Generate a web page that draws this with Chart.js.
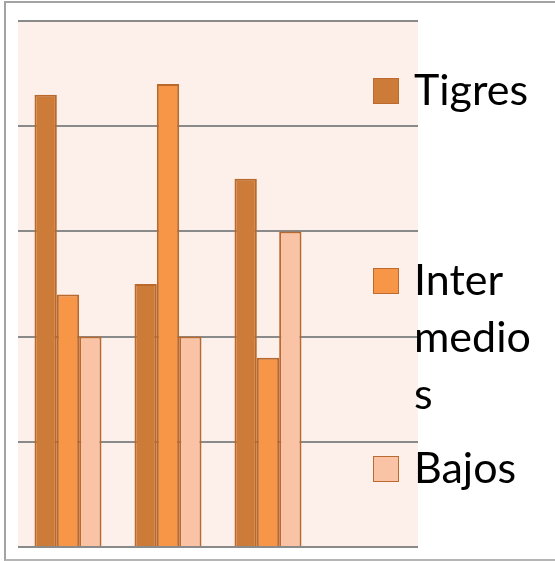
<!DOCTYPE html>
<html>
<head>
<meta charset="utf-8">
<script src="https://cdn.jsdelivr.net/npm/chart.js@4.4.1/dist/chart.umd.min.js"></script>
<style>
  html, body { margin: 0; padding: 0; background: #fff; }
  #wrap { position: relative; width: 555px; height: 561px; overflow: hidden; }
  #frame { position: absolute; left: 4px; top: 1px; width: 700px; height: 556px;
           border-top: 2px solid #a3a3a3; border-left: 2px solid #a3a3a3; border-bottom: 2px solid #b5b5b5; border-right: none; }
  canvas { position: absolute; left: 0; top: 0; }
  .lg-item { position: absolute; left: 373px; font-family: Lato, "Open Sans", sans-serif;
             font-size: 43px; line-height: 57px; color: #000; }
  .lg-box { position: absolute; left: 0; width: 24px; height: 24px; border: 1.5px solid #BB6B2F; }
  .lg-text { position: absolute; left: 41px; top: 0; width: 122px; word-break: break-all; }
</style>
</head>
<body>
<div id="wrap">
  <div id="frame"></div>
  <canvas id="c" width="555" height="561"></canvas>
  <div id="legend"></div>
</div>
<script>
const categories = ["Grupo 1", "Grupo 2", "Grupo 3", ""];
const seriesNames = ["Tigres", "Intermedios", "Bajos"];
const tigres      = [4.3, 2.5, 3.5, null];
const intermedios = [2.4, 4.4, 1.8, null];
const bajos       = [2.0, 2.0, 3.0, null];
const yTicks = [0, 1, 2, 3, 4, 5];

const fills = ["#CC7B38", "#F79646", "#FAC3A6"];

const bgPlugin = {
  id: 'plotBg',
  beforeDraw(chart) {
    const { ctx, chartArea: a } = chart;
    ctx.save();
    ctx.fillStyle = '#FDEFE9';
    ctx.fillRect(a.left, a.top, a.right - a.left, a.bottom - a.top);
    ctx.restore();
  }
};

const legendTops = [60, 250, 438];
const htmlLegend = {
  id: 'htmlLegend',
  afterUpdate(chart) {
    const host = document.getElementById('legend');
    host.innerHTML = '';
    chart.data.datasets.forEach((ds, i) => {
      const item = document.createElement('div');
      item.className = 'lg-item';
      item.style.top = legendTops[i] + 'px';
      const box = document.createElement('div');
      box.className = 'lg-box';
      box.style.top = '18px';
      box.style.background = ds.backgroundColor;
      const txt = document.createElement('div');
      txt.className = 'lg-text';
      txt.textContent = ds.label;
      item.appendChild(box);
      item.appendChild(txt);
      host.appendChild(item);
    });
  }
};

new Chart(document.getElementById('c'), {
  type: 'bar',
  data: {
    labels: categories,
    datasets: [
      { label: seriesNames[0], data: tigres, backgroundColor: fills[0] },
      { label: seriesNames[1], data: intermedios, backgroundColor: fills[1] },
      { label: seriesNames[2], data: bajos, backgroundColor: fills[2] }
    ].map(d => Object.assign(d, { borderColor: '#B9692E', borderWidth: 2,
                                   categoryPercentage: 0.67, barPercentage: 1.0 }))
  },
  options: {
    responsive: false,
    animation: false,
    layout: { padding: { left: 18, right: 137, top: 21, bottom: 14 } },
    plugins: { legend: { display: false }, tooltip: { enabled: false } },
    scales: {
      x: { display: false },
      y: {
        min: yTicks[0], max: yTicks[yTicks.length - 1],
        afterBuildTicks(axis) { axis.ticks = yTicks.map(v => ({ value: v })); },
        ticks: { display: false },
        border: { display: false },
        grid: { color: '#8a8a8a', lineWidth: 2, drawTicks: false }
      }
    }
  },
  plugins: [bgPlugin, htmlLegend]
});
</script>
</body>
</html>
